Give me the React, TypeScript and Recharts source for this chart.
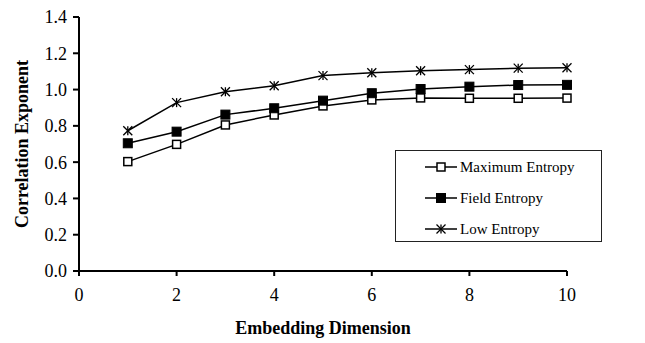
import React from 'react';
import { LineChart, Line, XAxis, YAxis, Legend } from 'recharts';

const dimensions = [1, 2, 3, 4, 5, 6, 7, 8, 9, 10];
const maximumEntropy = [0.603, 0.698, 0.805, 0.86, 0.91, 0.943, 0.954, 0.952, 0.952, 0.953];
const fieldEntropy = [0.704, 0.768, 0.862, 0.897, 0.939, 0.98, 1.003, 1.016, 1.025, 1.026];
const lowEntropy = [0.773, 0.928, 0.988, 1.021, 1.077, 1.093, 1.104, 1.11, 1.118, 1.12];
const xTicks = [0, 2, 4, 6, 8, 10];
const yTicks = [0, 0.2, 0.4, 0.6, 0.8, 1.0, 1.2, 1.4];
const seriesNames = ['Maximum Entropy', 'Field Entropy', 'Low Entropy'];
const seriesKeys = ['max', 'field', 'low'];
const markerKinds = ['open', 'filled', 'star'];

const data = dimensions.map((d, i) => ({
  dim: d,
  max: maximumEntropy[i],
  field: fieldEntropy[i],
  low: lowEntropy[i],
}));

const FONT = '"Liberation Serif", "Times New Roman", serif';

function Marker({ kind, cx, cy }: { kind: string; cx: number; cy: number }) {
  if (kind === 'open') {
    return <rect x={cx - 4} y={cy - 4} width={8} height={8} fill="#fff" stroke="#000" strokeWidth={1.5} />;
  }
  if (kind === 'filled') {
    return <rect x={cx - 4.5} y={cy - 4.5} width={9} height={9} fill="#000" stroke="#000" strokeWidth={1} />;
  }
  const r = 4.5;
  return (
    <g stroke="#000" strokeWidth={1.3}>
      <line x1={cx} y1={cy - r} x2={cx} y2={cy + r} />
      <line x1={cx - r} y1={cy - r} x2={cx + r} y2={cy + r} />
      <line x1={cx - r} y1={cy + r} x2={cx + r} y2={cy - r} />
    </g>
  );
}

function makeDot(kind: string, key: string) {
  return (props: any) => {
    const { cx, cy, index } = props;
    if (cx == null || cy == null) return <g key={`${key}-${index}`} />;
    return (
      <g key={`${key}-${index}`}>
        <Marker kind={kind} cx={cx} cy={cy} />
      </g>
    );
  };
}

function LegendBox() {
  return (
    <div
      style={{
        width: 205,
        height: 90,
        border: '1px solid #222',
        background: '#fff',
        fontFamily: FONT,
        fontSize: 15,
        color: '#000',
        boxSizing: 'content-box',
        position: 'relative',
      }}
    >
      {seriesNames.map((name, i) => (
        <div
          key={name}
          style={{ position: 'absolute', left: 29, top: 6 + i * 31, height: 20, display: 'flex', alignItems: 'center' }}
        >
          <svg width={32} height={20} style={{ display: 'block' }}>
            <line x1={0} y1={10} x2={32} y2={10} stroke="#000" strokeWidth={1.5} />
            <Marker kind={markerKinds[i]} cx={16} cy={10} />
          </svg>
          <span style={{ marginLeft: 3, lineHeight: '20px', whiteSpace: 'nowrap' }}>{name}</span>
        </div>
      ))}
    </div>
  );
}

export default function App() {
  return (
    <div style={{ position: 'absolute', left: 0, top: 0, background: '#fff' }}>
      <LineChart width={645} height={343} data={data} margin={{ top: 17, right: 78, left: 0, bottom: 0 }}>
        <XAxis
          dataKey="dim"
          type="number"
          domain={[0, 10]}
          ticks={xTicks}
          interval={0}
          tickSize={5}
          tickMargin={12}
          height={72}
          axisLine={{ stroke: '#000', strokeWidth: 2 }}
          tickLine={{ stroke: '#000', strokeWidth: 2 }}
          tick={{ fill: '#000', fontSize: 18, fontFamily: FONT }}
          label={{
            value: 'Embedding Dimension',
            position: 'insideBottom',
            offset: 9,
            style: { fontWeight: 'bold', fontSize: 18, fontFamily: FONT, fill: '#000' },
          }}
        />
        <YAxis
          type="number"
          domain={[0, 1.4]}
          ticks={yTicks}
          interval={0}
          width={79}
          tickSize={6}
          tickMargin={6}
          tickFormatter={(v: number) => v.toFixed(1)}
          axisLine={{ stroke: '#000', strokeWidth: 2 }}
          tickLine={{ stroke: '#000', strokeWidth: 2 }}
          tick={{ fill: '#000', fontSize: 18, fontFamily: FONT }}
          label={{
            value: 'Correlation Exponent',
            angle: -90,
            position: 'insideLeft',
            offset: 22,
            style: { textAnchor: 'middle', fontWeight: 'bold', fontSize: 18, fontFamily: FONT, fill: '#000' },
          }}
        />
        <Legend
          content={() => <LegendBox />}
          layout="vertical"
          align="center"
          verticalAlign="middle"
          wrapperStyle={{ position: 'absolute', left: 395, top: 150, width: 'auto', height: 'auto' }}
        />
        {seriesKeys.map((k, i) => (
          <Line
            key={k}
            dataKey={k}
            name={seriesNames[i]}
            stroke="#000"
            strokeWidth={1.5}
            dot={makeDot(markerKinds[i], k)}
            activeDot={false}
            isAnimationActive={false}
          />
        ))}
      </LineChart>
    </div>
  );
}
